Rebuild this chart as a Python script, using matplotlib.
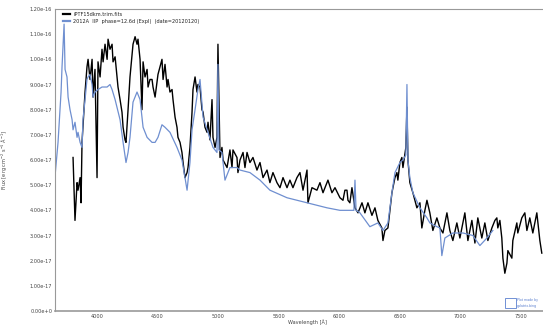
import numpy as np
import matplotlib.pyplot as plt
from matplotlib.patches import Rectangle

# spectrum of iPTF15dkm (flux in 1e-17 erg/cm2/s/A)
wave_dkm = [3802, 3818, 3835, 3843, 3860, 3868, 3876, 3901, 3917, 3926, 3942, 3959, 3967, 3983,
            4000, 4008, 4025, 4041, 4050, 4066, 4083, 4091, 4107, 4124, 4132, 4149, 4165, 4173,
            4190, 4206, 4215, 4231, 4239, 4256, 4272, 4289, 4297, 4314, 4330, 4338, 4355, 4371,
            4380, 4396, 4413, 4421, 4437, 4454, 4462, 4479, 4503, 4536, 4545, 4561, 4578, 4586,
            4602, 4619, 4627, 4644, 4660, 4668, 4685, 4701, 4710, 4726, 4743, 4751, 4767, 4784,
            4792, 4809, 4825, 4833, 4850, 4866, 4875, 4891, 4908, 4916, 4932, 4949, 4957, 4974,
            4990, 4998, 5015, 5031, 5040, 5073, 5097, 5114, 5122, 5155, 5163, 5180, 5205, 5221,
            5238, 5262, 5287, 5320, 5345, 5370, 5403, 5427, 5452, 5485, 5510, 5535, 5568, 5592,
            5617, 5650, 5675, 5700, 5733, 5741, 5774, 5815, 5840, 5865, 5906, 5939, 5964, 6005,
            6030, 6046, 6063, 6071, 6087, 6104, 6129, 6154, 6187, 6211, 6236, 6269, 6294, 6318,
            6351, 6360, 6376, 6401, 6434, 6459, 6475, 6483, 6500, 6516, 6525, 6549, 6558, 6566,
            6582, 6607, 6640, 6665, 6681, 6706, 6723, 6747, 6772, 6805, 6830, 6855, 6888, 6912,
            6937, 6970, 6995, 7020, 7036, 7061, 7094, 7119, 7143, 7176, 7201, 7226, 7259, 7284,
            7300, 7308, 7325, 7341, 7350, 7366, 7383, 7391, 7424, 7432, 7465, 7473, 7506, 7531,
            7548, 7572, 7597, 7630, 7655, 7671]
flux_dkm = [6.1, 3.6, 5.1, 4.8, 5.3, 4.3, 6.7, 8.7, 9.7, 10.0, 9.2, 10.0, 8.5, 9.6,
            5.3, 9.9, 9.3, 10.4, 9.9, 10.6, 10.0, 10.8, 10.4, 10.6, 9.9, 10.1, 9.3, 8.9,
            8.4, 7.9, 7.3, 6.8, 6.7, 8.0, 9.3, 10.2, 10.6, 10.9, 10.6, 10.8, 10.0, 8.0,
            9.9, 9.3, 9.6, 8.9, 9.2, 9.2, 8.9, 8.5, 9.4, 10.0, 9.2, 9.8, 8.9, 9.2,
            8.7, 8.8, 8.4, 7.7, 7.3, 6.9, 6.7, 6.3, 5.9, 5.3, 5.5, 5.7, 6.5, 7.9,
            8.8, 9.3, 8.7, 9.0, 8.9, 8.0, 7.9, 7.3, 7.1, 7.5, 6.8, 8.4, 6.9, 6.5,
            6.9, 10.6, 6.1, 6.5, 6.0, 5.7, 6.4, 5.7, 6.4, 6.1, 5.5, 6.0, 6.3, 5.7,
            6.3, 5.9, 6.1, 5.6, 5.9, 5.3, 5.6, 5.1, 5.5, 5.1, 4.9, 5.3, 4.9, 5.2,
            4.9, 5.3, 5.5, 4.8, 5.6, 4.3, 4.9, 4.8, 5.1, 4.7, 5.2, 4.7, 4.9, 4.5,
            4.4, 4.8, 4.8, 4.4, 4.3, 4.9, 4.1, 3.9, 4.3, 3.9, 4.3, 3.8, 4.1, 3.6,
            3.3, 2.8, 3.2, 3.3, 4.7, 5.3, 5.5, 5.2, 5.9, 6.1, 5.7, 6.5, 8.1, 6.0,
            5.1, 4.7, 4.1, 4.3, 3.3, 4.0, 4.4, 3.9, 3.2, 3.7, 3.3, 3.1, 3.9, 3.2,
            2.8, 3.5, 2.9, 3.5, 3.9, 2.8, 3.6, 2.7, 3.7, 2.9, 3.5, 2.8, 3.3, 3.6,
            3.7, 3.3, 3.6, 2.9, 2.1, 1.5, 1.9, 2.4, 2.1, 2.8, 3.5, 3.1, 3.7, 3.9,
            3.2, 3.7, 3.1, 3.9, 2.8, 2.3]

# template SN 2012A
wave_12a = [3654, 3678, 3703, 3711, 3728, 3736, 3752, 3761, 3777, 3794, 3802, 3818, 3835, 3843,
            3860, 3876, 3884, 3901, 3917, 3926, 3942, 3959, 3967, 3983, 4008, 4041, 4083, 4107,
            4124, 4149, 4190, 4215, 4239, 4256, 4272, 4297, 4330, 4355, 4380, 4413, 4454, 4479,
            4503, 4536, 4561, 4602, 4660, 4701, 4726, 4743, 4767, 4784, 4809, 4833, 4850, 4875,
            4916, 4957, 4990, 4998, 5006, 5031, 5056, 5097, 5155, 5180, 5262, 5345, 5427, 5568,
            5733, 5898, 6005, 6120, 6129, 6138, 6170, 6252, 6318, 6360, 6401, 6434, 6459, 6500,
            6525, 6549, 6558, 6566, 6582, 6607, 6665, 6723, 6747, 6805, 6830, 6846, 6871, 6937,
            7020, 7102, 7160, 7218, 7267]
flux_12a = [5.4, 6.7, 8.7, 9.7, 11.4, 9.6, 9.3, 8.5, 8.0, 7.6, 7.2, 7.5, 6.9, 7.1,
            6.7, 6.5, 7.6, 8.4, 9.2, 9.3, 9.4, 9.0, 8.5, 8.7, 8.8, 8.9, 8.9, 9.0,
            8.8, 8.4, 7.6, 6.7, 5.9, 6.3, 6.9, 8.3, 8.7, 8.4, 7.3, 6.9, 6.7, 6.7,
            6.9, 7.4, 7.3, 7.1, 6.5, 6.0, 5.3, 4.8, 5.9, 7.2, 8.0, 8.8, 9.2, 7.7,
            7.1, 6.5, 6.3, 9.8, 6.4, 6.3, 5.2, 5.7, 5.7, 5.6, 5.5, 5.2, 4.8, 4.5,
            4.3, 4.1, 4.0, 4.0, 5.2, 4.0, 3.9, 3.35, 3.5, 3.2, 3.5, 4.7, 5.5, 5.9,
            6.0, 6.2, 9.0, 6.0, 5.3, 4.7, 4.1, 3.7, 3.5, 3.35, 3.3, 2.2, 2.9, 3.1,
            3.1, 3.0, 2.6, 2.9, 3.2]

yticks = np.arange(0, 13, 1)
ytick_labels = ['0.00e+0'] + ['%.2fe-17' % v for v in range(1, 10)] + ['1.00e-16', '1.10e-16', '1.20e-16']
xticks = [4000, 4500, 5000, 5500, 6000, 6500, 7000, 7500]

fig = plt.figure(figsize=(5.43, 3.26), dpi=100)
# the plot area runs past the right edge of the image
ax = fig.add_axes([55 / 543, 15 / 326, 500 / 543, 302 / 326])

ax.plot(wave_dkm, flux_dkm, color='black', lw=1.0, label='iPTF15dkm.trim.fits')
ax.plot(wave_12a, flux_12a, color='#6f8fd0', lw=0.9,
        label='2012A  IIP  phase=12.6d (Expl)  (date=20120120)')

ax.set_xlim(3653, 7780)
ax.set_ylim(0, 12)
ax.set_yticks(yticks)
ax.set_yticklabels(ytick_labels)
ax.set_xticks(xticks)
ax.tick_params(length=0, labelsize=3.6, colors='#444444', pad=2)
for s in ax.spines.values():
    s.set_color('#999999')
    s.set_linewidth(0.8)
ax.spines['bottom'].set_linewidth(1.2)
ax.spines['right'].set_visible(False)

ax.set_ylabel('Flux [erg cm$^{-2}$ s$^{-1}$ Å$^{-1}$]', fontsize=3.6, color='#444444', labelpad=14)
fig.text(307 / 543, 1 / 326, 'Wavelength [Å]', fontsize=3.6, color='#444444', ha='center', va='bottom')

leg = ax.legend(loc='upper left', bbox_to_anchor=(0.01, 1.0), frameon=False, fontsize=3.6,
                handlelength=1.4, handletextpad=0.6, labelspacing=0.3, borderaxespad=0.2)
for t in leg.get_texts():
    t.set_color('#222222')
for h in leg.get_lines():
    h.set_linewidth(1.6)

# small credit badge in the lower right corner
fig.patches.append(Rectangle((505 / 543, 18 / 326), 11 / 543, 10 / 326, transform=fig.transFigure,
                             fill=False, edgecolor='#5a7fcf', lw=0.6))
fig.text(517 / 543, 26 / 326, 'Plot made by', fontsize=2.3, color='#5a7fcf', va='center')
fig.text(517 / 543, 20 / 326, 'galatrix.bing', fontsize=2.3, color='#5a7fcf', va='center')

fig.savefig('out.png', dpi=100)
